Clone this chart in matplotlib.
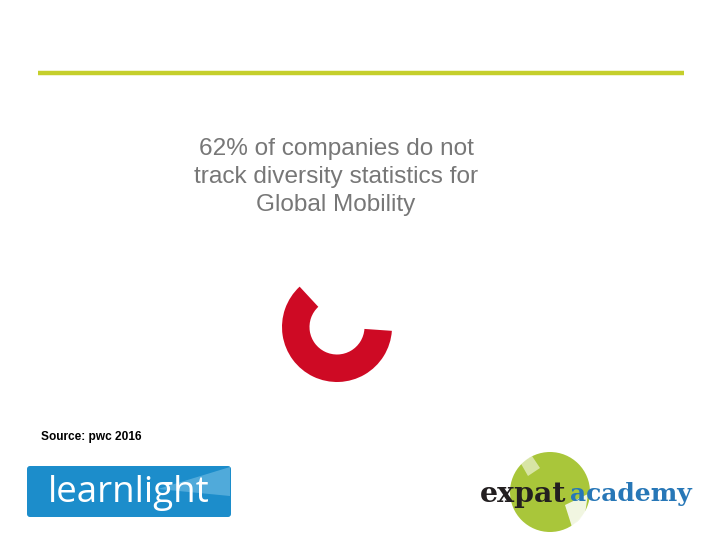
import matplotlib
matplotlib.use("Agg")
import matplotlib.pyplot as plt
from matplotlib.patches import FancyBboxPatch, Circle, Polygon

# ---- data ----
labels = ["Do not track", "Track"]
values = [62, 38]
colors = ["#CE0A24", "none"]
title_lines = ["62% of companies do not", "track diversity statistics for", "Global Mobility"]
source_text = "Source: pwc 2016"

W, H = 720, 540
fig = plt.figure(figsize=(W / 100, H / 100), dpi=100)
fig.patch.set_facecolor("white")

# decoration axes in pixel coordinates
bg = fig.add_axes([0, 0, 1, 1])
bg.set_xlim(0, W)
bg.set_ylim(H, 0)
bg.axis("off")

# green rule
bg.plot([38, 684], [72.5, 72.5], color="#C5CF2C", lw=3.2, solid_capstyle="butt")

# title
for i, line in enumerate(title_lines):
    bg.text(336, 149 + i * 28, line, ha="center", va="center", color="#777777",
            fontsize=17.6, family="Liberation Sans")

# source
bg.text(41, 437, source_text, ha="left", va="center", color="black",
        fontsize=8.6, family="Liberation Sans", fontweight="bold")

# learnlight logo
box = FancyBboxPatch((27, 466), 204, 51, boxstyle="round,pad=0,rounding_size=3",
                     facecolor="#1C8DCB", edgecolor="none")
bg.add_patch(box)
beam = Polygon([(158, 489), (230, 467), (230, 496)], closed=True,
               facecolor="#7CC3E8", edgecolor="none", alpha=0.55)
bg.add_patch(beam)
bg.text(129, 493, "learnlight", ha="center", va="center", color="white",
        fontsize=26.5, family="Open Sans", fontweight=500)

# expat academy logo
bg.add_patch(Circle((550, 492), 40, facecolor="#A9C63A", edgecolor="none"))
bg.add_patch(Polygon([(565, 505), (588, 494), (585, 514), (572, 527)], closed=True,
                     facecolor="white", edgecolor="none", alpha=0.85))
bg.add_patch(Polygon([(520, 462), (532, 456), (540, 468), (528, 476)], closed=True,
                     facecolor="white", edgecolor="none", alpha=0.55))
bg.text(566, 494, "expat", ha="right", va="center", color="#231F20",
        fontsize=20.5, family="DejaVu Serif", fontweight="bold")
bg.text(570, 494, "academy", ha="left", va="center", color="#2777B7",
        fontsize=18, family="DejaVu Serif", fontweight="bold")

# donut
cx, cy, r = 337, 327, 55
pax = fig.add_axes([(cx - r) / W, (H - cy - r) / H, 2 * r / W, 2 * r / H])
pax.pie(values, colors=colors, startangle=-4, counterclock=False, radius=1,
        wedgeprops=dict(width=0.5, edgecolor="none"))
pax.set_aspect("equal")
pax.set_xlim(-1, 1)
pax.set_ylim(-1, 1)
pax.axis("off")

fig.savefig("out.png", dpi=100, facecolor="white")
